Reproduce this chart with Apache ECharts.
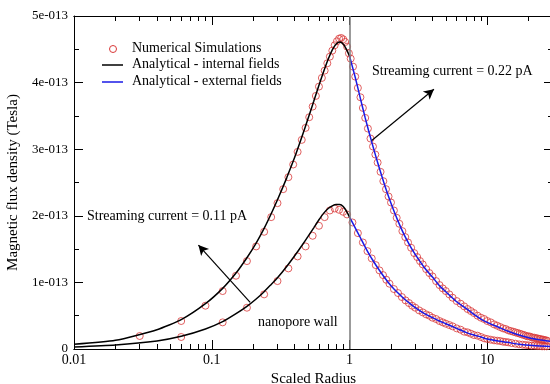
<!DOCTYPE html>
<html>
<head>
<meta charset="utf-8">
<script src="https://cdn.jsdelivr.net/npm/echarts@6/dist/echarts.min.js"></script>
<style>
  html, body { margin: 0; padding: 0; background: #fff; }
  #main { width: 550px; height: 384px; }
</style>
</head>
<body>
<div id="main"></div>
<script>
// all flux densities are in units of 1e-13 Tesla
var xMin = 0.01, xMax = 30;
var xMajorTicks = [0.01, 0.1, 1, 10];
var xMinorTicks = [0.02, 0.03, 0.04, 0.05, 0.06, 0.07, 0.08, 0.09,
                   0.2, 0.3, 0.4, 0.5, 0.6, 0.7, 0.8, 0.9,
                   2, 3, 4, 5, 6, 7, 8, 9, 20];

// 0.22 pA - analytical, inside the pore (black)
var hiInR = [0.01, 0.02, 0.04, 0.06, 0.09, 0.12, 0.15, 0.18, 0.21, 0.24, 0.27, 0.3, 0.35, 0.4, 0.45, 0.5, 0.55, 0.6, 0.65, 0.7, 0.75, 0.8, 0.85, 0.9, 0.95, 1.0];
var hiInB = [0.07, 0.13, 0.29, 0.44, 0.68, 0.91, 1.14, 1.37, 1.59, 1.81, 2.03, 2.24, 2.57, 2.88, 3.18, 3.46, 3.72, 3.96, 4.17, 4.35, 4.49, 4.58, 4.61, 4.58, 4.50, 4.40];
// 0.22 pA - analytical, outside (blue)
var hiOutR = [1, 1.1, 1.2, 1.3, 1.4, 1.5, 1.6, 1.8, 2, 2.25, 2.5, 2.75, 3, 3.5, 4, 4.5, 5, 6, 7, 8, 9, 10, 12, 14, 17, 20, 24, 30];
var hiOutB = [4.40, 4.08, 3.76, 3.47, 3.22, 3.00, 2.80, 2.46, 2.19, 1.92, 1.71, 1.55, 1.42, 1.22, 1.08, 0.95, 0.86, 0.71, 0.61, 0.52, 0.45, 0.40, 0.33, 0.27, 0.21, 0.17, 0.14, 0.11];
// 0.22 pA - simulations
var hiSimR = [0.03, 0.06, 0.09, 0.12, 0.15, 0.18, 0.21, 0.24, 0.27, 0.30, 0.33, 0.36, 0.39, 0.42, 0.45, 0.48, 0.51, 0.54, 0.57, 0.60, 0.63, 0.66, 0.69, 0.72, 0.75, 0.78, 0.81, 0.84, 0.87, 0.90, 0.93, 0.96, 0.99,
  1.02, 1.06, 1.10, 1.15, 1.20, 1.25, 1.30, 1.36, 1.42, 1.48, 1.54, 1.60, 1.68, 1.76, 1.84, 1.92, 2.00, 2.10, 2.20, 2.30, 2.42, 2.54, 2.66, 2.80, 2.95, 3.10, 3.25, 3.40, 3.60, 3.80, 4.00, 4.25, 4.50, 4.75, 5.00, 5.30, 5.60, 6.00, 6.40, 6.80, 7.20, 7.60, 8.00, 8.50, 9.00, 9.50,
  10.0, 10.6, 11.2, 11.8, 12.4, 13.0, 13.6, 14.2, 14.8, 15.4, 16.0, 16.6, 17.2, 17.8, 18.4, 19.0, 19.6, 20.2, 20.8, 21.4, 22.0, 22.6, 23.2, 23.8, 24.4, 25.0, 25.6, 26.2, 26.8, 27.4];
var hiSimB = [0.195, 0.42, 0.65, 0.87, 1.10, 1.32, 1.54, 1.76, 1.98, 2.19, 2.40, 2.58, 2.77, 2.96, 3.14, 3.32, 3.48, 3.64, 3.80, 3.94, 4.07, 4.18, 4.29, 4.39, 4.48, 4.56, 4.62, 4.66, 4.67, 4.65, 4.61, 4.54, 4.44,
  4.36, 4.24, 4.09, 3.92, 3.78, 3.62, 3.47, 3.31, 3.16, 3.04, 2.92, 2.80, 2.66, 2.52, 2.40, 2.29, 2.20, 2.08, 1.97, 1.88, 1.77, 1.68, 1.60, 1.52, 1.44, 1.38, 1.32, 1.27, 1.20, 1.14, 1.09, 1.02, 0.96, 0.91, 0.87, 0.82, 0.77, 0.72, 0.68, 0.64, 0.60, 0.57, 0.54, 0.50, 0.47, 0.45,
  0.42, 0.40, 0.37, 0.35, 0.33, 0.31, 0.30, 0.28, 0.27, 0.26, 0.25, 0.24, 0.23, 0.22, 0.21, 0.20, 0.19, 0.19, 0.18, 0.17, 0.17, 0.16, 0.16, 0.15, 0.15, 0.14, 0.14, 0.13, 0.13, 0.12];

// 0.11 pA - analytical, inside (black)
var loInR = [0.01, 0.02, 0.04, 0.06, 0.09, 0.12, 0.15, 0.18, 0.21, 0.24, 0.27, 0.3, 0.35, 0.4, 0.45, 0.5, 0.55, 0.6, 0.65, 0.7, 0.75, 0.8, 0.85, 0.9, 0.95, 1.0];
var loInB = [0.03, 0.06, 0.12, 0.19, 0.30, 0.41, 0.53, 0.64, 0.75, 0.86, 0.97, 1.07, 1.24, 1.40, 1.55, 1.69, 1.82, 1.94, 2.04, 2.11, 2.15, 2.17, 2.17, 2.14, 2.07, 1.98];
// 0.11 pA - analytical, outside (blue)
var loOutR = [1, 1.1, 1.2, 1.3, 1.4, 1.5, 1.6, 1.8, 2, 2.25, 2.5, 2.75, 3, 3.5, 4, 4.5, 5, 6, 7, 8, 9, 10, 12, 14, 17, 20, 24, 30];
var loOutB = [1.98, 1.82, 1.67, 1.53, 1.41, 1.31, 1.22, 1.07, 0.95, 0.84, 0.75, 0.68, 0.62, 0.53, 0.47, 0.42, 0.38, 0.31, 0.25, 0.21, 0.18, 0.15, 0.12, 0.10, 0.07, 0.055, 0.045, 0.035];
// 0.11 pA - simulations
var loSimR = [0.06, 0.12, 0.18, 0.24, 0.30, 0.36, 0.42, 0.48, 0.54, 0.60, 0.66, 0.72, 0.78, 0.84, 0.90, 0.96,
  1.05, 1.15, 1.25, 1.35, 1.45, 1.55, 1.65, 1.75, 1.85, 1.95, 2.10, 2.25, 2.40, 2.55, 2.70, 2.85, 3.00, 3.20, 3.40, 3.60, 3.80, 4.00, 4.25, 4.50, 4.75, 5.00, 5.30, 5.60, 6.00, 6.40, 6.80, 7.20, 7.60, 8.00, 8.50, 9.00, 9.50,
  10.0, 10.6, 11.2, 11.8, 12.4, 13.0, 13.6, 14.2, 15.0, 16.0, 17.0, 18.0, 19.0, 20.0, 21.0, 22.0, 23.0, 24.0, 25.0, 26.0, 27.0];
var loSimB = [0.18, 0.40, 0.62, 0.82, 1.02, 1.21, 1.39, 1.54, 1.70, 1.85, 1.98, 2.08, 2.11, 2.09, 2.06, 2.02,
  1.90, 1.74, 1.60, 1.47, 1.36, 1.26, 1.18, 1.11, 1.04, 0.98, 0.90, 0.84, 0.78, 0.73, 0.69, 0.65, 0.62, 0.58, 0.55, 0.52, 0.50, 0.47, 0.45, 0.42, 0.40, 0.38, 0.36, 0.34, 0.31, 0.29, 0.26, 0.25, 0.23, 0.21, 0.20, 0.18, 0.16,
  0.15, 0.14, 0.13, 0.125, 0.12, 0.11, 0.105, 0.10, 0.09, 0.08, 0.07, 0.065, 0.06, 0.055, 0.05, 0.05, 0.045, 0.045, 0.04, 0.04, 0.04];

function pairs(xs, ys) {
  return xs.map(function (x, i) { return [x, ys[i]]; });
}

var font = 'Liberation Serif';
var red = '#d83838', blue = '#1a1ae6';

var myChart = echarts.init(document.getElementById('main'));

var gridBox = { left: 74, right: -3, top: 16, bottom: 35, outerBoundsMode: 'none', containLabel: false };

// tick-only log axes (top/bottom, major/minor)
function tickAxis(gridIndex, pos, values, len) {
  return {
    gridIndex: gridIndex, type: 'log', position: pos, min: xMin, max: xMax, logBase: 10,
    axisLine: { show: true, onZero: false, lineStyle: { color: '#000' } },
    axisLabel: { show: false },
    axisTick: { show: true, inside: true, length: len, customValues: values, lineStyle: { color: '#000' } },
    splitLine: { show: false }
  };
}

var option = {
  animation: false,
  grid: [gridBox, Object.assign({}, gridBox)],
  xAxis: [
    {
      gridIndex: 0, type: 'log', position: 'bottom', min: xMin, max: xMax, logBase: 10,
      name: 'Scaled Radius', nameLocation: 'middle', nameGap: 19,
      nameTextStyle: { fontFamily: font, fontSize: 15, color: '#000' },
      axisLine: { onZero: false, lineStyle: { color: '#000' } },
      axisTick: { inside: true, length: 9, customValues: xMajorTicks, lineStyle: { color: '#000' } },
      axisLabel: { fontFamily: font, fontSize: 14, color: '#000', margin: 4, customValues: xMajorTicks },
      splitLine: { show: false }
    },
    tickAxis(0, 'top', xMajorTicks, 9),
    tickAxis(1, 'bottom', xMinorTicks, 5),
    tickAxis(1, 'top', xMinorTicks, 5)
  ],
  yAxis: [
    {
      gridIndex: 0, type: 'value', position: 'left', min: 0, max: 5, interval: 1,
      name: 'Magnetic flux density (Tesla)', nameLocation: 'middle', nameGap: 47,
      nameTextStyle: { fontFamily: font, fontSize: 15, color: '#000' },
      axisLine: { show: true, lineStyle: { color: '#000' } },
      axisTick: { show: true, inside: true, length: 9, lineStyle: { color: '#000' } },
      minorTick: { show: true, splitNumber: 2, length: 5, lineStyle: { color: '#000' } },
      axisLabel: {
        fontFamily: font, fontSize: 13, color: '#000', margin: 6,
        formatter: function (v) { return v === 0 ? '0' : v + 'e-013'; }
      },
      splitLine: { show: false }
    },
    {
      gridIndex: 0, type: 'value', position: 'right', min: 0, max: 5, interval: 1,
      axisLine: { show: true, lineStyle: { color: '#000' } },
      axisTick: { show: true, inside: true, length: 9, lineStyle: { color: '#000' } },
      minorTick: { show: true, splitNumber: 2, length: 5, lineStyle: { color: '#000' } },
      axisLabel: { show: false },
      splitLine: { show: false }
    },
    { gridIndex: 1, type: 'value', min: 0, max: 5, interval: 1, show: false }
  ],
  series: [
    {
      name: 'Analytical - internal fields', type: 'line', data: pairs(hiInR, hiInB),
      showSymbol: false, smooth: 0.2, lineStyle: { color: '#000', width: 1.5 }, z: 3,
      markLine: {
        silent: true, symbol: 'none', label: { show: false },
        lineStyle: { color: '#7a7a7a', width: 1.5, type: 'solid' },
        data: [{ xAxis: 1 }]
      }
    },
    {
      name: 'Analytical - external fields', type: 'line', data: pairs(hiOutR, hiOutB),
      showSymbol: false, smooth: 0.2, lineStyle: { color: blue, width: 1.5 }, z: 3
    },
    {
      name: 'Analytical - internal fields', type: 'line', data: pairs(loInR, loInB),
      showSymbol: false, smooth: 0.2, lineStyle: { color: '#000', width: 1.5 }, z: 3,
      markLine: {
        silent: true, symbol: ['none', 'arrow'], symbolSize: [8, 10], label: { show: false },
        lineStyle: { color: '#000', width: 1.2, type: 'solid' },
        data: [
          [{ coord: [0.19, 0.70] }, { coord: [0.08, 1.56] }],
          [{ coord: [1.45, 3.13] }, { coord: [4.1, 3.90] }]
        ]
      }
    },
    {
      name: 'Analytical - external fields', type: 'line', data: pairs(loOutR, loOutB),
      showSymbol: false, smooth: 0.2, lineStyle: { color: blue, width: 1.5 }, z: 3
    },
    {
      name: 'Numerical Simulations', type: 'scatter', data: pairs(hiSimR, hiSimB),
      symbol: 'circle', symbolSize: 7,
      itemStyle: { color: 'rgba(0,0,0,0)', borderColor: red, borderWidth: 1 }, z: 2
    },
    {
      name: 'Numerical Simulations', type: 'scatter', data: pairs(loSimR, loSimB),
      symbol: 'circle', symbolSize: 7,
      itemStyle: { color: 'rgba(0,0,0,0)', borderColor: red, borderWidth: 1 }, z: 2
    },
    {
      // empty series so the tick-only second grid gets laid out
      type: 'line', xAxisIndex: 2, yAxisIndex: 2, data: [], silent: true
    }
  ],
  graphic: [
    // legend
    { type: 'circle', shape: { cx: 113, cy: 49, r: 3.5 }, style: { fill: 'none', stroke: red, lineWidth: 1 } },
    { type: 'line', shape: { x1: 102, y1: 65, x2: 123, y2: 65 }, style: { stroke: '#000', lineWidth: 1.5 } },
    { type: 'line', shape: { x1: 102, y1: 82, x2: 123, y2: 82 }, style: { stroke: blue, lineWidth: 1.5 } },
    { type: 'text', left: 132, top: 41, style: { text: 'Numerical Simulations', font: '14px ' + font, fill: '#000' } },
    { type: 'text', left: 132, top: 57, style: { text: 'Analytical - internal fields', font: '14px ' + font, fill: '#000' } },
    { type: 'text', left: 132, top: 74, style: { text: 'Analytical - external fields', font: '14px ' + font, fill: '#000' } },
    // annotations
    { type: 'text', left: 372, top: 64, style: { text: 'Streaming current = 0.22 pA', font: '14px ' + font, fill: '#000' } },
    { type: 'text', left: 87, top: 209, style: { text: 'Streaming current = 0.11 pA', font: '14px ' + font, fill: '#000' } },
    { type: 'text', left: 258, top: 315, style: { text: 'nanopore wall', font: '14px ' + font, fill: '#000' } }
  ]
};

myChart.setOption(option);
</script>
</body>
</html>
